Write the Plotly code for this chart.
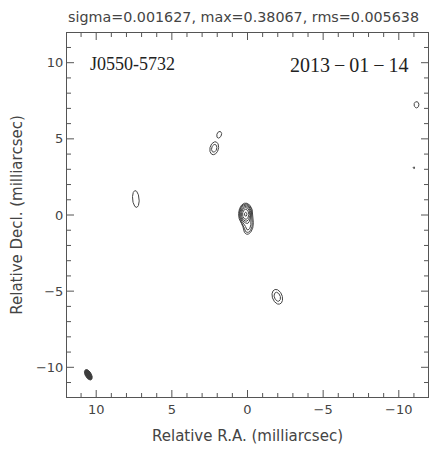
import numpy as np
import plotly.graph_objects as go

# ---- data (RA, Dec in mas; peak in Jy/beam; Gaussian sigmas in mas; PA in deg) ----
comp_ra = [0.12, -0.05, 2.20, 1.87, 7.38, -1.97, -11.17, -11.00]
comp_dec = [0.05, -0.70, 4.38, 5.28, 1.05, -5.37, 7.24, 3.10]
comp_peak = [0.36, 0.030, 0.0146, 0.0088, 0.0088, 0.0146, 0.0088, 0.0055]
comp_smaj = [0.25, 0.30, 0.29, 0.20, 0.51, 0.34, 0.19, 0.12]
comp_smin = [0.16, 0.17, 0.19, 0.14, 0.20, 0.22, 0.15, 0.12]
comp_pa = [0.0, -10.0, -15.0, -20.0, 5.0, 20.0, 0.0, 0.0]

beam_ra, beam_dec = 10.52, -10.49
beam_major, beam_minor, beam_pa = 0.76, 0.40, 30.0

sigma_noise = 0.001627
map_max = 0.38067
map_rms = 0.005638
n_levels = 8          # contour levels: 3*sigma * 2^k
source_name = "J0550-5732"
obs_date = "2013\u2009\u2212\u200901\u2009\u2212\u200914"

x_range = [11.93, -11.93]
y_range = [-11.95, 11.95]
major_ticks = [-10, -5, 0, 5, 10]
minor_ticks = [v for v in range(-11, 12) if v % 5]

lowest = 3 * sigma_noise


def model(RA, DEC):
    img = np.zeros_like(RA)
    for ra, dec, pk, sa, sb, pa in zip(comp_ra, comp_dec, comp_peak, comp_smaj, comp_smin, comp_pa):
        th = np.deg2rad(pa)
        dra, ddec = RA - ra, DEC - dec
        p = dra * np.sin(th) + ddec * np.cos(th)
        q = dra * np.cos(th) - ddec * np.sin(th)
        img += pk * np.exp(-0.5 * ((p / sa) ** 2 + (q / sb) ** 2))
    return img


def contour_paths(xs, ys, f):
    """Marching squares for the zero level of f (shape ny x nx); returns x, y with gaps."""
    s = f > 0
    a = s[:-1, :-1]; b = s[:-1, 1:]; c = s[1:, 1:]; d = s[1:, :-1]
    mixed = ~((a == b) & (b == c) & (c == d))
    adj = {}

    def link(p, q):
        adj.setdefault(p, []).append(q)
        adj.setdefault(q, []).append(p)

    for j, i in zip(*np.nonzero(mixed)):
        j, i = int(j), int(i)
        e = []
        if s[j, i] != s[j, i + 1]:
            e.append((0, j, i))
        if s[j, i + 1] != s[j + 1, i + 1]:
            e.append((1, j, i + 1))
        if s[j + 1, i] != s[j + 1, i + 1]:
            e.append((0, j + 1, i))
        if s[j, i] != s[j + 1, i]:
            e.append((1, j, i))
        if len(e) == 2:
            link(e[0], e[1])
        elif len(e) == 4:
            link(e[0], e[1])
            link(e[2], e[3])

    def pt(k):
        kind, j, i = k
        if kind == 0:
            a0, b0 = f[j, i], f[j, i + 1]
            t = a0 / (a0 - b0)
            return xs[i] + t * (xs[i + 1] - xs[i]), ys[j]
        a0, b0 = f[j, i], f[j + 1, i]
        t = a0 / (a0 - b0)
        return xs[i], ys[j] + t * (ys[j + 1] - ys[j])

    visited = set()
    ox, oy = [], []
    starts = [k for k in adj if len(adj[k]) == 1] + list(adj)
    for st in starts:
        if st in visited:
            continue
        path = [st]
        visited.add(st)
        cur = st
        while True:
            nxt = [n for n in adj[cur] if n not in visited]
            if not nxt:
                break
            cur = nxt[0]
            visited.add(cur)
            path.append(cur)
        if len(path) > 2 and st in adj[cur]:
            path.append(st)
        for k in path:
            x, y = pt(k)
            ox.append(round(float(x), 4))
            oy.append(round(float(y), 4))
        ox.append(None)
        oy.append(None)
    return ox, oy


fig = go.Figure()

half = 1.6
windows = []
cx, cy = [], []
for ra, dec in zip(comp_ra, comp_dec):
    if any(abs(ra - wr) < half - 0.6 and abs(dec - wd) < half - 0.6 for wr, wd in windows):
        continue
    windows.append((ra, dec))
    xs = np.arange(ra - half, ra + half + 1e-9, 0.02)
    ys = np.arange(dec - half, dec + half + 1e-9, 0.02)
    RA, DEC = np.meshgrid(xs, ys)
    z = np.log2(np.maximum(model(RA, DEC), lowest / 16) / lowest)
    for k in range(n_levels):
        px, py = contour_paths(xs, ys, z - k)
        cx += px
        cy += py

fig.add_trace(go.Scatter(x=cx, y=cy, mode="lines",
                         line=dict(color="#444444", width=1),
                         hoverinfo="skip", showlegend=False))

# restoring beam
t = np.linspace(0, 2 * np.pi, 80)
th = np.deg2rad(beam_pa)
a, b = beam_major / 2, beam_minor / 2
bx = beam_ra + a * np.cos(t) * np.sin(th) + b * np.sin(t) * np.cos(th)
by = beam_dec + a * np.cos(t) * np.cos(th) - b * np.sin(t) * np.sin(th)
fig.add_trace(go.Scatter(x=bx, y=by, mode="lines", fill="toself",
                         fillcolor="#3c3c3c", line=dict(color="#3c3c3c", width=1),
                         hoverinfo="skip", showlegend=False))

# inside tick marks on all four sides (lengths in data units: ~7 px major, ~4 px minor)
plot_w, plot_h = 434 - 67 - 6, 450 - 33 - 53
ux = abs(x_range[0] - x_range[1]) / plot_w   # mas per pixel
uy = abs(y_range[1] - y_range[0]) / plot_h
tx, ty = [], []
for vals, ln in ((major_ticks, 7), (minor_ticks, 4)):
    for v in vals:
        # bottom and top
        tx += [v, v, None, v, v, None]
        ty += [y_range[0], y_range[0] + ln * uy, None, y_range[1], y_range[1] - ln * uy, None]
        # left (x = x_range[0], inward = decreasing RA) and right
        tx += [x_range[0], x_range[0] - ln * ux, None, x_range[1], x_range[1] + ln * ux, None]
        ty += [v, v, None, v, v, None]
fig.add_trace(go.Scatter(x=tx, y=ty, mode="lines", line=dict(color="#555555", width=1),
                         hoverinfo="skip", showlegend=False))


def axis_style(rng, title, standoff):
    return dict(
        range=rng,
        showgrid=False, zeroline=False, showline=True, linecolor="#555", linewidth=1,
        mirror=True, ticks="",
        tickmode="linear", tick0=0, dtick=5,
        tickfont=dict(family="DejaVu Sans", size=13, color="#444"),
        title=dict(text=title, standoff=standoff,
                   font=dict(family="DejaVu Sans", size=15, color="#444")),
    )


fig.update_layout(
    width=434, height=450,
    margin=dict(l=67, r=6, t=33, b=53),
    paper_bgcolor="white", plot_bgcolor="white",
    showlegend=False,
    title=dict(text=f"sigma={sigma_noise}, max={map_max}, rms={map_rms}",
               x=68 / 434, xanchor="left", xref="container",
               y=1 - 17 / 450, yanchor="middle", yref="container",
               font=dict(family="DejaVu Sans", size=14.3, color="#444")),
    xaxis=axis_style(x_range, "Relative R.A. (milliarcsec)", 14),
    yaxis=axis_style(y_range, "Relative Decl. (milliarcsec)", 9),
    annotations=[
        dict(text=source_name, xref="paper", yref="paper", x=0.058, y=0.915,
             xanchor="left", yanchor="middle", showarrow=False,
             font=dict(family="Liberation Serif", size=18, color="#222")),
        dict(text=obs_date, xref="paper", yref="paper", x=0.952, y=0.912,
             xanchor="right", yanchor="middle", showarrow=False,
             font=dict(family="Liberation Serif", size=20, color="#222")),
    ],
)

fig.write_html("out.html")
